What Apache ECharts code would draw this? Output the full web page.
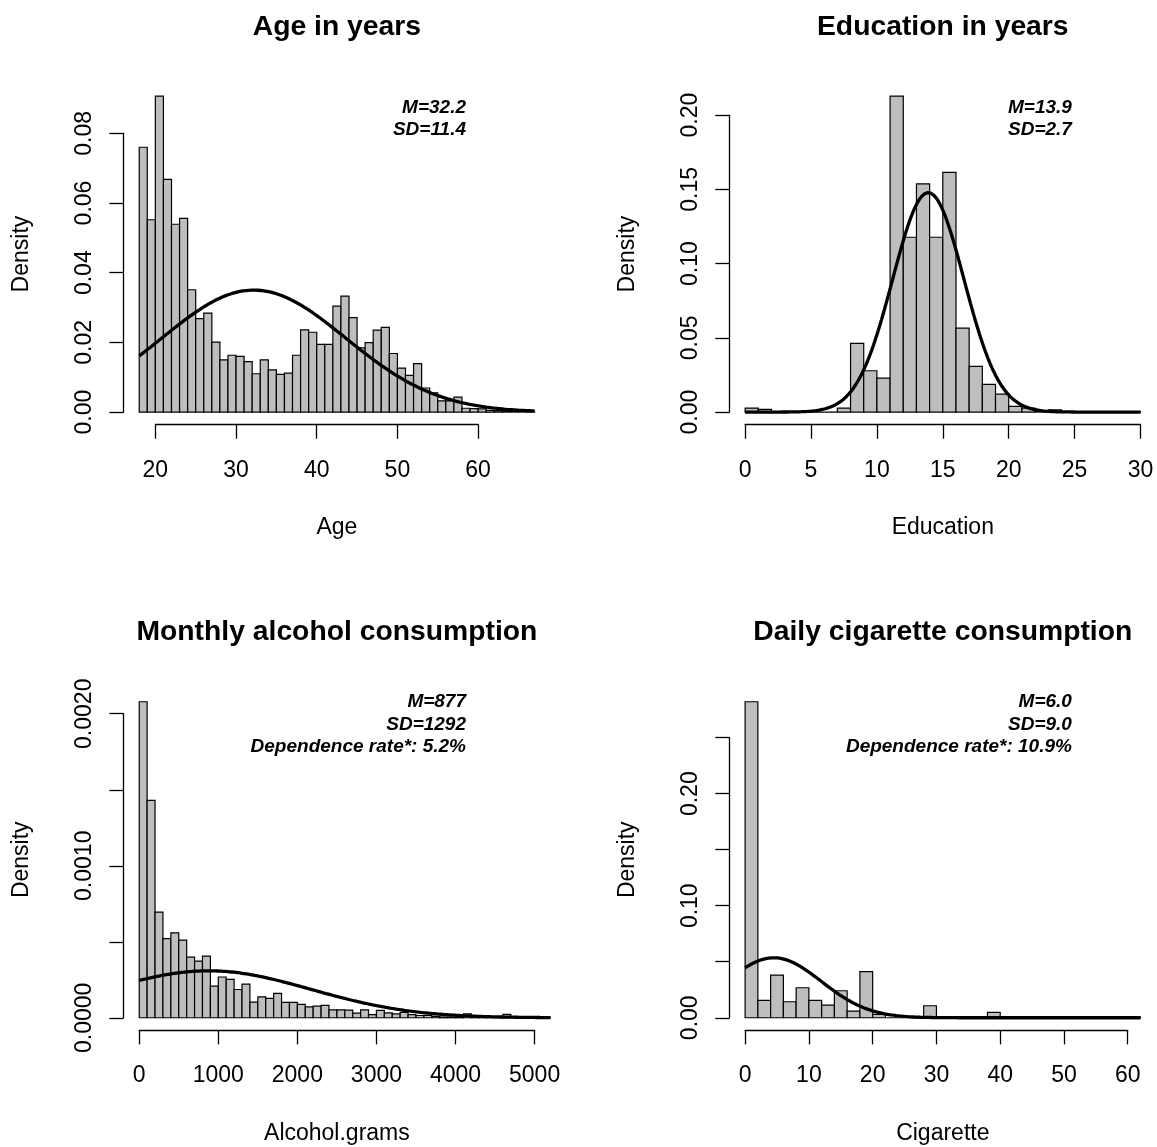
<!DOCTYPE html>
<html>
<head>
<meta charset="utf-8">
<script src="https://cdn.jsdelivr.net/npm/echarts@6/dist/echarts.min.js"></script>
<style>
html, body { margin: 0; padding: 0; background: #ffffff; }
#chart { width: 1157px; height: 1147px; }
</style>
</head>
<body>
<div id="chart"></div>
<script>
// ---- Age (1-year bins starting at 18) ----
const ageBinStart = 18;
const ageBinWidth = 1;
const ageDensity = [
  0.0760, 0.0552, 0.0907, 0.0668, 0.0539, 0.0556, 0.0351, 0.0268, 0.0284, 0.0201,
  0.0150, 0.0163, 0.0160, 0.0145, 0.0110, 0.0150, 0.0121, 0.0108, 0.0112, 0.0163,
  0.0236, 0.0229, 0.0194, 0.0194, 0.0304, 0.0333, 0.0271, 0.0184, 0.0199, 0.0235,
  0.0243, 0.0168, 0.0126, 0.0105, 0.0139, 0.0069, 0.0055, 0.0032, 0.0032, 0.0043,
  0.0011, 0.0010, 0.0009, 0.0005, 0.0004, 0.0003, 0.0003, 0.0002, 0.0002
];
const ageXLim = [18, 67];
const ageCurve = { mean: 32.2, sd: 11.4, from: 18, to: 67 };
const ageXTicks = [20, 30, 40, 50, 60];
const ageYTicks = [0, 0.02, 0.04, 0.06, 0.08];
const ageYTickLabels = ['0.00', '0.02', '0.04', '0.06', '0.08'];
const ageNotes = ['M=32.2', 'SD=11.4'];

// ---- Education (1-year bins starting at 0) ----
const eduBinStart = 0;
const eduBinWidth = 1;
const eduDensity = [
  0.0027, 0.0018, 0, 0, 0, 0, 0, 0.0027, 0.0462, 0.0278,
  0.0229, 0.2128, 0.1177, 0.1536, 0.1177, 0.1614, 0.0565, 0.0307, 0.0186, 0.0121,
  0.0038, 0.0027, 0.0005, 0.0015, 0, 0, 0, 0, 0, 0.0003
];
const eduXLim = [0, 30];
const eduCurve = { mean: 13.9, sd: 2.7, from: 0, to: 30 };
const eduXTicks = [0, 5, 10, 15, 20, 25, 30];
const eduYTicks = [0, 0.05, 0.10, 0.15, 0.20];
const eduYTickLabels = ['0.00', '0.05', '0.10', '0.15', '0.20'];
const eduNotes = ['M=13.9', 'SD=2.7'];

// ---- Alcohol grams per month (100 g bins starting at 0) ----
const alcBinStart = 0;
const alcBinWidth = 100;
const alcDensity = [
  0.002079, 0.001430, 0.000695, 0.000520, 0.000559, 0.000511, 0.000399, 0.000373, 0.000406, 0.000208,
  0.000268, 0.000252, 0.000186, 0.000221, 0.000103, 0.000138, 0.000127, 0.000160, 0.000101, 0.000101,
  0.000088, 0.000071, 0.000076, 0.000082, 0.000052, 0.000052, 0.000050, 0.000030, 0.000052, 0.000020,
  0.000048, 0.000032, 0.000026, 0.000035, 0.000020, 0.000015, 0.000015, 0.000009, 0.000005, 0.000005,
  0.000003, 0.000026, 0.000003, 0.000003, 0, 0.000005, 0.000022, 0, 0.000003, 0,
  0.000005, 0.000003
];
const alcXLim = [0, 5000];
// curve runs to the right edge of the plot region (5200) and is clipped there
const alcCurve = { mean: 877, sd: 1292, from: 0, to: 5200 };
const alcXTicks = [0, 1000, 2000, 3000, 4000, 5000];
const alcYTicks = [0, 0.0005, 0.0010, 0.0015, 0.0020];
const alcYTickLabels = ['0.0000', '', '0.0010', '', '0.0020'];
const alcNotes = ['M=877', 'SD=1292', 'Dependence rate*: 5.2%'];

// ---- Cigarettes per day (2-unit bins starting at 0) ----
const cigBinStart = 0;
const cigBinWidth = 2;
const cigDensity = [
  0.2821, 0.0155, 0.0381, 0.0143, 0.0268, 0.0155, 0.0113, 0.0241, 0.0060, 0.0411,
  0.0030, 0, 0, 0.0008, 0.0107, 0, 0, 0, 0, 0.0048,
  0, 0, 0, 0, 0, 0, 0, 0, 0, 0, 0.0005
];
const cigXLim = [0, 62];
// The overlaid normal curve for this panel peaks near 4.5 (height ~0.054),
// so it uses its own mean/sd rather than the printed M=6.0 / SD=9.0.
const cigCurve = { mean: 4.5, sd: 7.45, from: 0, to: 62 };
const cigXTicks = [0, 10, 20, 30, 40, 50, 60];
const cigYTicks = [0, 0.05, 0.10, 0.15, 0.20, 0.25];
const cigYTickLabels = ['0.00', '', '0.10', '', '0.20', ''];
const cigNotes = ['M=6.0', 'SD=9.0', 'Dependence rate*: 10.9%'];

const panels = [
  { title: 'Age in years', xName: 'Age', start: ageBinStart, width: ageBinWidth, density: ageDensity,
    xlim: ageXLim, curve: ageCurve, xTicks: ageXTicks, yTicks: ageYTicks, yLabels: ageYTickLabels, notes: ageNotes },
  { title: 'Education in years', xName: 'Education', start: eduBinStart, width: eduBinWidth, density: eduDensity,
    xlim: eduXLim, curve: eduCurve, xTicks: eduXTicks, yTicks: eduYTicks, yLabels: eduYTickLabels, notes: eduNotes },
  { title: 'Monthly alcohol consumption', xName: 'Alcohol.grams', start: alcBinStart, width: alcBinWidth, density: alcDensity,
    xlim: alcXLim, curve: alcCurve, xTicks: alcXTicks, yTicks: alcYTicks, yLabels: alcYTickLabels, notes: alcNotes },
  { title: 'Daily cigarette consumption', xName: 'Cigarette', start: cigBinStart, width: cigBinWidth, density: cigDensity,
    xlim: cigXLim, curve: cigCurve, xTicks: cigXTicks, yTicks: cigYTicks, yLabels: cigYTickLabels, notes: cigNotes }
];

// ---- layout (plot regions in a 2x2 arrangement) ----
const FONT = '"Liberation Sans", Arial, Helvetica, sans-serif';
const PLOT_W = 427;
const PLOT_H = 341.3;
const COL_LEFT = [123.4, 729.3];
const ROW_TOP = [83.4, 689.1];
const AXIS_COLOR = '#000';
const TICK_FONT = 23;

function normalPdf(x, m, s) {
  const z = (x - m) / s;
  return Math.exp(-0.5 * z * z) / (s * Math.sqrt(2 * Math.PI));
}

const grids = [], xAxes = [], yAxes = [], series = [], graphics = [];

panels.forEach((p, k) => {
  const left = COL_LEFT[k % 2];
  const top = ROW_TOP[Math.floor(k / 2)];
  const xr = p.xlim[1] - p.xlim[0];
  const xmin = p.xlim[0] - 0.04 * xr;
  const xmax = p.xlim[1] + 0.04 * xr;
  const dmax = Math.max.apply(null, p.density);
  const ymin = -0.04 * dmax;
  const ymax = dmax * 1.04;
  const px = v => left + (v - xmin) / (xmax - xmin) * PLOT_W;
  const py = v => top + (ymax - v) / (ymax - ymin) * PLOT_H;

  const lastX = p.xTicks[p.xTicks.length - 1];
  const lastY = p.yTicks[p.yTicks.length - 1];

  // plot region
  grids.push({ left: left, top: top, width: PLOT_W, height: PLOT_H, containLabel: false, outerBoundsMode: 'none' });
  // x axis strip (spans first to last tick)
  grids.push({ left: px(p.xTicks[0]), top: top, width: px(lastX) - px(p.xTicks[0]), height: PLOT_H,
               containLabel: false, outerBoundsMode: 'none' });
  // y axis strip (spans 0 to last tick)
  grids.push({ left: left, top: py(lastY), width: 20, height: py(0) - py(lastY),
               containLabel: false, outerBoundsMode: 'none' });

  const g0 = 3 * k;
  xAxes.push({ gridIndex: g0, type: 'value', min: xmin, max: xmax, show: false });
  yAxes.push({ gridIndex: g0, type: 'value', min: ymin, max: ymax, show: false });

  xAxes.push({
    gridIndex: g0 + 1, type: 'value', position: 'bottom',
    min: p.xTicks[0], max: lastX, interval: p.xTicks[1] - p.xTicks[0],
    axisLine: { show: true, onZero: false, lineStyle: { color: AXIS_COLOR, width: 1.3 } },
    axisTick: { show: true, inside: false, length: 14, lineStyle: { color: AXIS_COLOR, width: 1.3 } },
    axisLabel: { show: true, margin: 34, fontSize: TICK_FONT, fontFamily: FONT, color: '#000',
                 showMinLabel: true, showMaxLabel: true, hideOverlap: false,
                 formatter: (v, i) => String(p.xTicks[i]) },
    splitLine: { show: false }
  });
  yAxes.push({ gridIndex: g0 + 1, type: 'value', min: 0, max: 1, show: false });

  xAxes.push({ gridIndex: g0 + 2, type: 'value', min: 0, max: 1, show: false });
  yAxes.push({
    gridIndex: g0 + 2, type: 'value', position: 'left',
    min: 0, max: lastY, interval: p.yTicks[1] - p.yTicks[0],
    axisLine: { show: true, onZero: false, lineStyle: { color: AXIS_COLOR, width: 1.3 } },
    axisTick: { show: true, inside: false, length: 14, lineStyle: { color: AXIS_COLOR, width: 1.3 } },
    axisLabel: { show: true, rotate: 90, margin: 27, fontSize: TICK_FONT, fontFamily: FONT, color: '#000',
                 showMinLabel: true, showMaxLabel: true, hideOverlap: false,
                 formatter: (v, i) => p.yLabels[i] || '' },
    splitLine: { show: false }
  });

  // histogram bars: [left break, right break, density]
  const bins = p.density.map((d, i) => [p.start + i * p.width, p.start + (i + 1) * p.width, d]);
  series.push({
    type: 'custom', xAxisIndex: g0, yAxisIndex: g0, silent: true, z: 2,
    data: bins, encode: { x: [0, 1], y: 2 },
    renderItem: (params, api) => {
      const a = api.coord([api.value(0), api.value(2)]);
      const b = api.coord([api.value(1), 0]);
      return {
        type: 'rect',
        shape: { x: a[0], y: a[1], width: b[0] - a[0], height: b[1] - a[1] },
        style: { fill: '#bebebe', stroke: '#000', lineWidth: 1.2 }
      };
    }
  });

  // normal density curve
  const c = p.curve;
  const n = 400;
  const curvePts = [];
  for (let i = 0; i <= n; i++) {
    const x = c.from + (c.to - c.from) * i / n;
    curvePts.push([x, normalPdf(x, c.mean, c.sd)]);
  }
  series.push({
    type: 'line', xAxisIndex: g0, yAxisIndex: g0, silent: true, z: 3,
    data: curvePts, showSymbol: false, symbol: 'none', smooth: false,
    lineStyle: { color: '#000', width: 3.3 }
  });

  // panel title
  graphics.push({
    type: 'text', x: left + PLOT_W / 2, y: top - 56.5,
    style: { text: p.title, fontSize: 28.3, fontWeight: 'bold', fontFamily: FONT, fill: '#000',
             align: 'center', verticalAlign: 'middle', textAlign: 'center', textVerticalAlign: 'middle' }
  });
  // x axis name
  graphics.push({
    type: 'text', x: left + PLOT_W / 2, y: top + PLOT_H + 103,
    style: { text: p.xName, fontSize: TICK_FONT, fontFamily: FONT, fill: '#000',
             align: 'center', verticalAlign: 'middle', textAlign: 'center', textVerticalAlign: 'middle' }
  });
  // y axis name
  graphics.push({
    type: 'text', x: left - 101.5, y: top + PLOT_H / 2, rotation: Math.PI / 2,
    style: { text: 'Density', fontSize: TICK_FONT, fontFamily: FONT, fill: '#000',
             align: 'center', verticalAlign: 'middle', textAlign: 'center', textVerticalAlign: 'middle' }
  });
  // summary notes, right aligned, block centred
  const lineGap = 22.5;
  const mid = top + 35.5;
  p.notes.forEach((t, i) => {
    graphics.push({
      type: 'text', x: left + 342.6, y: mid + (i - (p.notes.length - 1) / 2) * lineGap,
      style: { text: t, fontSize: 19, fontWeight: 'bold', fontStyle: 'italic', fontFamily: FONT, fill: '#000',
               align: 'right', verticalAlign: 'middle', textAlign: 'right', textVerticalAlign: 'middle' }
    });
  });
});

const chart = echarts.init(document.getElementById('chart'), null, { renderer: 'canvas' });
chart.setOption({
  backgroundColor: '#ffffff',
  animation: false,
  grid: grids,
  xAxis: xAxes,
  yAxis: yAxes,
  series: series,
  graphic: { elements: graphics }
});
</script>
</body>
</html>
